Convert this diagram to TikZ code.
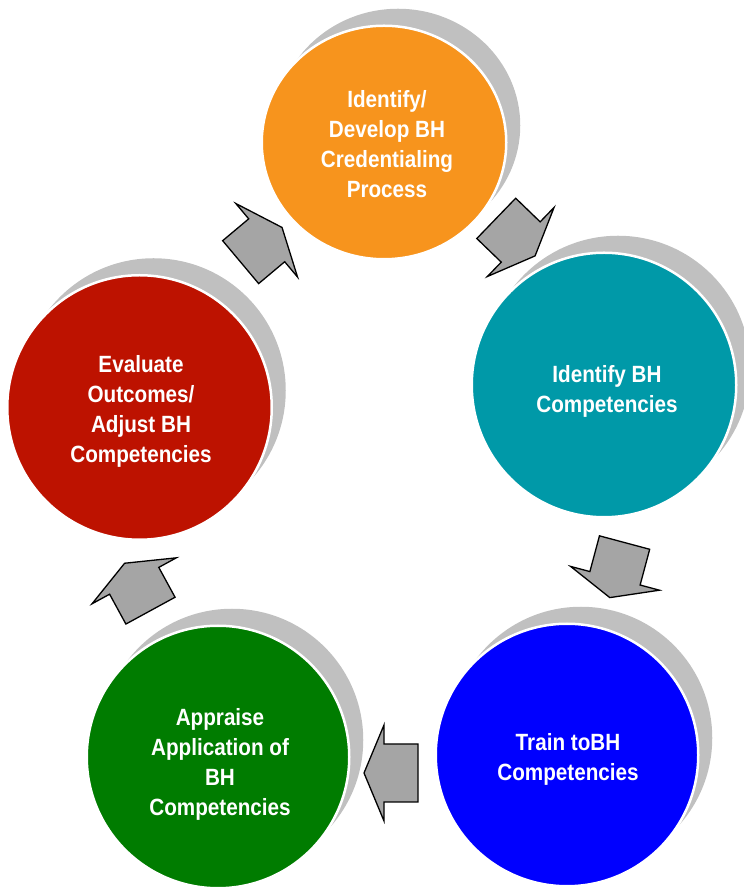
\documentclass[tikz,border=0pt]{standalone}
\usepackage{fontspec}
\newfontfamily\lblfont[FakeStretch=0.88]{Liberation Sans}
\usetikzlibrary{shapes.geometric}
\definecolor{cOrange}{HTML}{F7941D}
\definecolor{cTeal}{HTML}{0099A8}
\definecolor{cBlue}{HTML}{0000FF}
\definecolor{cGreen}{HTML}{007C00}
\definecolor{cRed}{HTML}{BD1200}
\definecolor{shadowgray}{HTML}{C0C0C0}
\definecolor{arrowgray}{HTML}{A5A5A5}
\begin{document}
\begin{tikzpicture}[x=1pt,y=1pt,
  shadowdisc/.style={circle, fill=shadowgray, draw=none, inner sep=0pt},
  disc/.style={circle, draw=white, line width=2.5pt, inner sep=0pt},
  disctext/.style={text=white, font=\lblfont\bfseries\fontsize{23.5}{30}\selectfont, align=center, inner sep=0pt},
  blockarrow/.style={fill=arrowgray, draw=black, line width=1.3pt, line join=miter}]
\useasboundingbox (0,0) rectangle (744,892);

% orange
\node[shadowdisc, ellipse, minimum width=244.5pt, minimum height=233.5pt] (orangeS) at (398,766.5) {};
\node[disc, ellipse, fill=cOrange, minimum width=244.5pt, minimum height=233.5pt] (orange) at (384,749.5) {};
% teal
\node[shadowdisc, minimum size=264.5pt] (tealS) at (618,524) {};
\node[disc, fill=cTeal, minimum size=264.5pt] (teal) at (604,507) {};
% blue
\node[shadowdisc, minimum size=262.5pt] (blueS) at (581,154) {};
\node[disc, fill=cBlue, minimum size=262.5pt] (blue) at (567,137) {};
% green
\node[shadowdisc, minimum size=262.5pt] (greenS) at (232,152) {};
\node[disc, fill=cGreen, minimum size=262.5pt] (green) at (218,135) {};
% red
\node[shadowdisc, minimum size=264.5pt] (redS) at (153.5,501.5) {};
\node[disc, fill=cRed, minimum size=264.5pt] (red) at (139.5,484.5) {};

% texts
\node[disctext] (orangeT) at (387,747.5) {Identify/\\Develop BH\\Credentialing\\Process};
\node[disctext] (tealT) at (607,500.5) {Identify BH\\Competencies};
\node[disctext] (blueT) at (568,133) {Train toBH\\Competencies};
\node[disctext] (greenT) at (220,128) {Appraise\\Application of\\BH\\Competencies};
\node[disctext] (redT) at (141,480.5) {Evaluate\\Outcomes/\\Adjust BH\\Competencies};

% block arrows
\draw[blockarrow, shift={(266.7,651.7)}, rotate=40]
  (20,0) -- (0,48) -- (0,28) -- (-34,28) -- (-34,-28) -- (0,-28) -- (0,-48) -- cycle;
\draw[blockarrow, shift={(520.7,650)}, rotate=-44]
  (20,0) -- (0,48) -- (0,28) -- (-34,28) -- (-34,-28) -- (0,-28) -- (0,-48) -- cycle;
\draw[blockarrow, shift={(615,313.7)}, rotate=-105]
  (20,0) -- (0,46) -- (0,26) -- (-37,26) -- (-37,-26) -- (0,-26) -- (0,-46) -- cycle;
\draw[blockarrow, shift={(384,119)}, rotate=180]
  (20,0) -- (0,48) -- (0,29) -- (-34,29) -- (-34,-29) -- (0,-29) -- (0,-48) -- cycle;
\draw[blockarrow, shift={(134.2,311.2)}, rotate=118.6]
  (20,0) -- (0,48) -- (0,28) -- (-34,28) -- (-34,-28) -- (0,-28) -- (0,-48) -- cycle;
\end{tikzpicture}
\end{document}
